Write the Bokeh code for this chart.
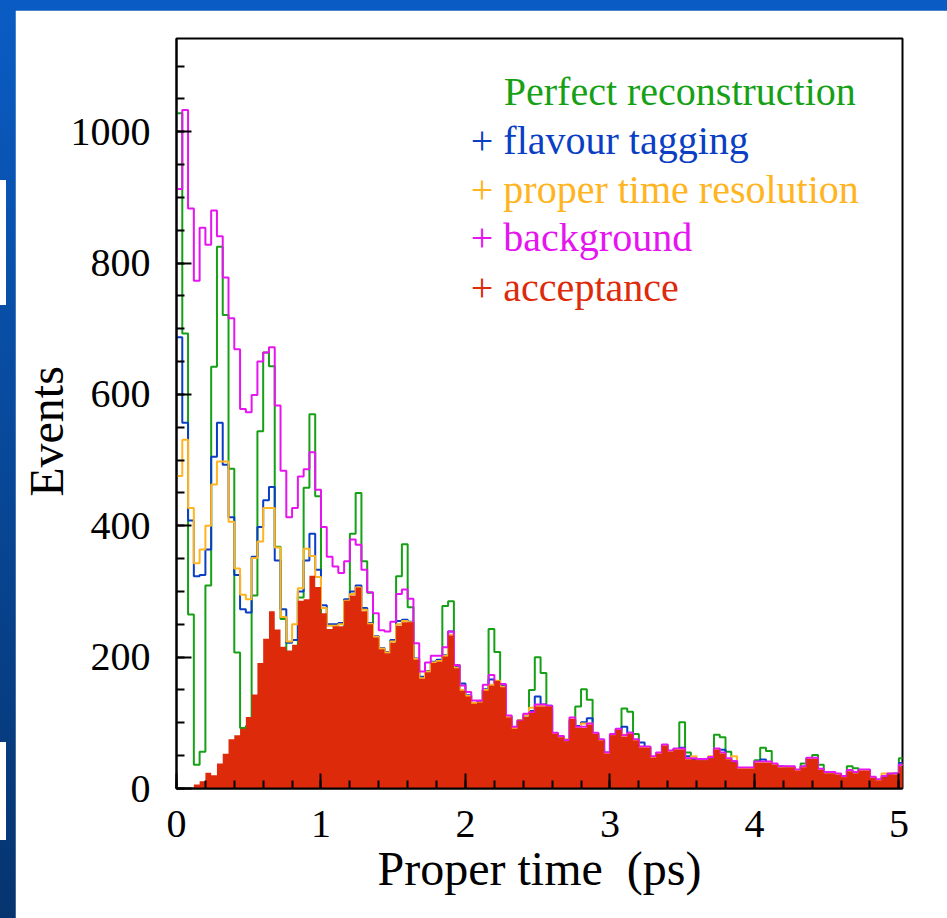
from bokeh.plotting import figure
from bokeh.models import Range1d, Label, SingleIntervalTicker
from bokeh.layouts import column
from bokeh.embed import file_html
from bokeh.resources import INLINE

# ---------------- data (events per 0.04 ps bin, 0 .. 5.04 ps) ----------------
bin_width = 0.04

perfect = [1028, 693, 265, 36, 56, 309, 642, 825, 721, 487, 207, 92, 95, 294, 544, 664, 643, 368, 258, 190,
           200, 291, 458, 570, 445, 200, 150, 140, 170, 250, 388, 450, 346, 298, 200, 140, 130, 200, 323, 372,
           276, 180, 120, 110, 140, 195, 278, 285, 188, 120, 90, 90, 110, 150, 243, 208, 150, 90, 70, 80,
           100, 150, 200, 176, 120, 75, 60, 55, 80, 125, 151, 135, 80, 60, 40, 55, 85, 122, 117, 83,
           55, 45, 35, 40, 55, 55, 60, 101, 55, 40, 30, 30, 40, 82, 78, 56, 40, 28, 25, 25,
           43, 62, 57, 35, 28, 25, 25, 27, 38, 46, 51, 36, 22, 18, 18, 17, 34, 31, 27, 28,
           16, 12, 15, 20, 22, 46]

tagging = [687, 557, 408, 323, 325, 364, 505, 557, 493, 413, 325, 273, 268, 353, 398, 439, 459, 347, 273, 222,
           226, 300, 347, 388, 333, 279, 250, 250, 252, 288, 300, 309, 275, 252, 232, 214, 208, 226, 255, 257,
           254, 198, 170, 179, 193, 196, 203, 239, 185, 160, 142, 130, 132, 151, 166, 162, 156, 109, 92, 104,
           111, 118, 140, 128, 126, 84, 80, 73, 104, 95, 101, 107, 84, 74, 55, 82, 90, 94, 85, 74,
           70, 63, 48, 54, 66, 57, 60, 62, 49, 45, 43, 43, 47, 60, 59, 45, 41, 31, 31, 31,
           40, 44, 40, 37, 34, 33, 32, 28, 33, 46, 44, 29, 24, 23, 21, 17, 27, 24, 27, 27,
           16, 13, 17, 21, 23, 39]

resolution = [476, 531, 427, 343, 364, 400, 463, 498, 498, 406, 335, 295, 288, 351, 376, 427, 427, 367, 261, 224,
              250, 305, 365, 354, 322, 275, 248, 248, 250, 286, 296, 306, 272, 251, 231, 213, 207, 224, 250, 255,
              253, 197, 168, 178, 192, 194, 202, 234, 184, 150, 141, 130, 131, 150, 158, 164, 155, 109, 92, 104,
              111, 123, 126, 126, 125, 84, 79, 75, 105, 93, 99, 99, 84, 74, 54, 82, 90, 82, 84, 74,
              63, 63, 48, 54, 65, 57, 60, 60, 45, 49, 44, 44, 49, 59, 54, 45, 49, 31, 31, 31,
              39, 40, 40, 37, 33, 33, 33, 28, 33, 45, 45, 29, 24, 24, 22, 18, 27, 24, 28, 28,
              17, 13, 23, 23, 22, 36]

background = [913, 1033, 883, 773, 854, 828, 880, 841, 778, 716, 669, 578, 573, 599, 650, 664, 672, 583, 484, 413,
              427, 475, 486, 512, 455, 398, 353, 338, 328, 346, 379, 371, 333, 299, 267, 241, 239, 254, 296, 303,
              289, 221, 178, 192, 202, 202, 215, 239, 188, 157, 147, 134, 134, 158, 173, 160, 159, 111, 94, 103,
              114, 116, 128, 128, 126, 85, 80, 74, 108, 94, 94, 99, 85, 75, 55, 83, 91, 81, 85, 75,
              64, 64, 49, 55, 67, 58, 61, 61, 46, 46, 45, 45, 48, 61, 55, 46, 42, 32, 32, 32,
              41, 41, 41, 38, 34, 34, 34, 29, 34, 47, 47, 30, 25, 25, 23, 19, 28, 25, 29, 29,
              18, 14, 19, 23, 23, 36]

acceptance = [0, 0, 0, 6, 11, 24, 20, 38, 53, 75, 81, 91, 109, 143, 191, 228, 270, 242, 216, 210,
              219, 286, 288, 324, 307, 267, 243, 247, 247, 286, 294, 306, 270, 250, 230, 212, 206, 222, 248, 253,
              253, 196, 167, 177, 191, 193, 201, 233, 183, 149, 140, 129, 131, 149, 157, 164, 154, 108, 91, 103,
              109, 115, 125, 125, 125, 83, 78, 72, 106, 92, 92, 97, 83, 73, 53, 81, 89, 79, 83, 73,
              62, 62, 47, 53, 65, 56, 59, 59, 44, 44, 43, 43, 46, 59, 53, 44, 40, 30, 30, 30,
              39, 39, 39, 36, 32, 32, 32, 27, 32, 45, 45, 28, 23, 23, 21, 17, 26, 23, 27, 27,
              16, 12, 17, 21, 21, 34]

legend_labels = ["Perfect reconstruction", "+ flavour tagging", "+ proper time resolution",
                 "+ background", "+ acceptance"]

GREEN = "#16a016"
BLUE = "#0a3fc4"
ORANGE = "#ffb422"
MAGENTA = "#e614f0"
RED = "#dd2a0b"
FONT = "Liberation Serif"

n = len(acceptance)
edges = [round(i * bin_width, 4) for i in range(n + 1)]

p = figure(width=932, height=908, x_range=Range1d(0, 5.025), y_range=Range1d(0, 1142),
           output_backend="svg", toolbar_location=None,
           min_border_left=161, min_border_right=45, min_border_top=28, min_border_bottom=130)
p.margin = (10, 0, 0, 15)
p.background_fill_color = "white"
p.border_fill_color = "white"
p.grid.visible = False
p.outline_line_color = "black"
p.outline_line_width = 2

for vals, col in [(perfect, GREEN), (tagging, BLUE), (resolution, ORANGE), (background, MAGENTA)]:
    p.step(x=edges, y=vals + [vals[-1]], mode="after", line_color=col, line_width=2)

p.varea_step(x=edges, y1=[0] * (n + 1), y2=acceptance + [acceptance[-1]],
             step_mode="after", fill_color=RED)

p.xaxis.ticker = SingleIntervalTicker(interval=1, num_minor_ticks=5)
p.yaxis.ticker = SingleIntervalTicker(interval=200, num_minor_ticks=4)
for ax in (p.xaxis, p.yaxis):
    ax.axis_line_width = 2
    ax.major_tick_line_width = 2
    ax.minor_tick_line_width = 2
    ax.major_tick_in = 15
    ax.major_tick_out = 0
    ax.minor_tick_in = 8
    ax.minor_tick_out = 0
    ax.major_label_text_font = FONT
    ax.major_label_text_font_size = "40px"
    ax.major_label_text_color = "black"
    ax.axis_label_text_font = FONT
    ax.axis_label_text_font_size = "48px"
    ax.axis_label_text_font_style = "normal"
    ax.axis_label_text_color = "black"
p.xaxis.major_label_standoff = 22
p.xaxis.axis_label_standoff = 2
p.yaxis.major_label_standoff = 26
p.yaxis.axis_label_standoff = -5
p.xaxis.axis_label = "Proper time\u00a0 (ps)"
p.yaxis.axis_label = "Events\u00a0\u00a0\u00a0"

legend_pos = [(2.265, 1061), (2.037, 987), (2.037, 912), (2.037, 839), (2.037, 763)]
for (lx, ly), txt, col in zip(legend_pos, legend_labels, [GREEN, BLUE, ORANGE, MAGENTA, RED]):
    p.add_layout(Label(x=lx, y=ly, text=txt, text_font=FONT, text_font_size="40px",
                       text_color=col, text_baseline="middle", text_align="left"))

bg = ("linear-gradient(#ffffff, #ffffff) 0px 180px / 6px 125px no-repeat, "
      "linear-gradient(#ffffff, #ffffff) 0px 742px / 6px 98px no-repeat, "
      "linear-gradient(to bottom, #0a5cc4, #06346f)")
layout = column(p, styles={"background": bg})

open("out.html", "w").write(file_html(layout, INLINE))
